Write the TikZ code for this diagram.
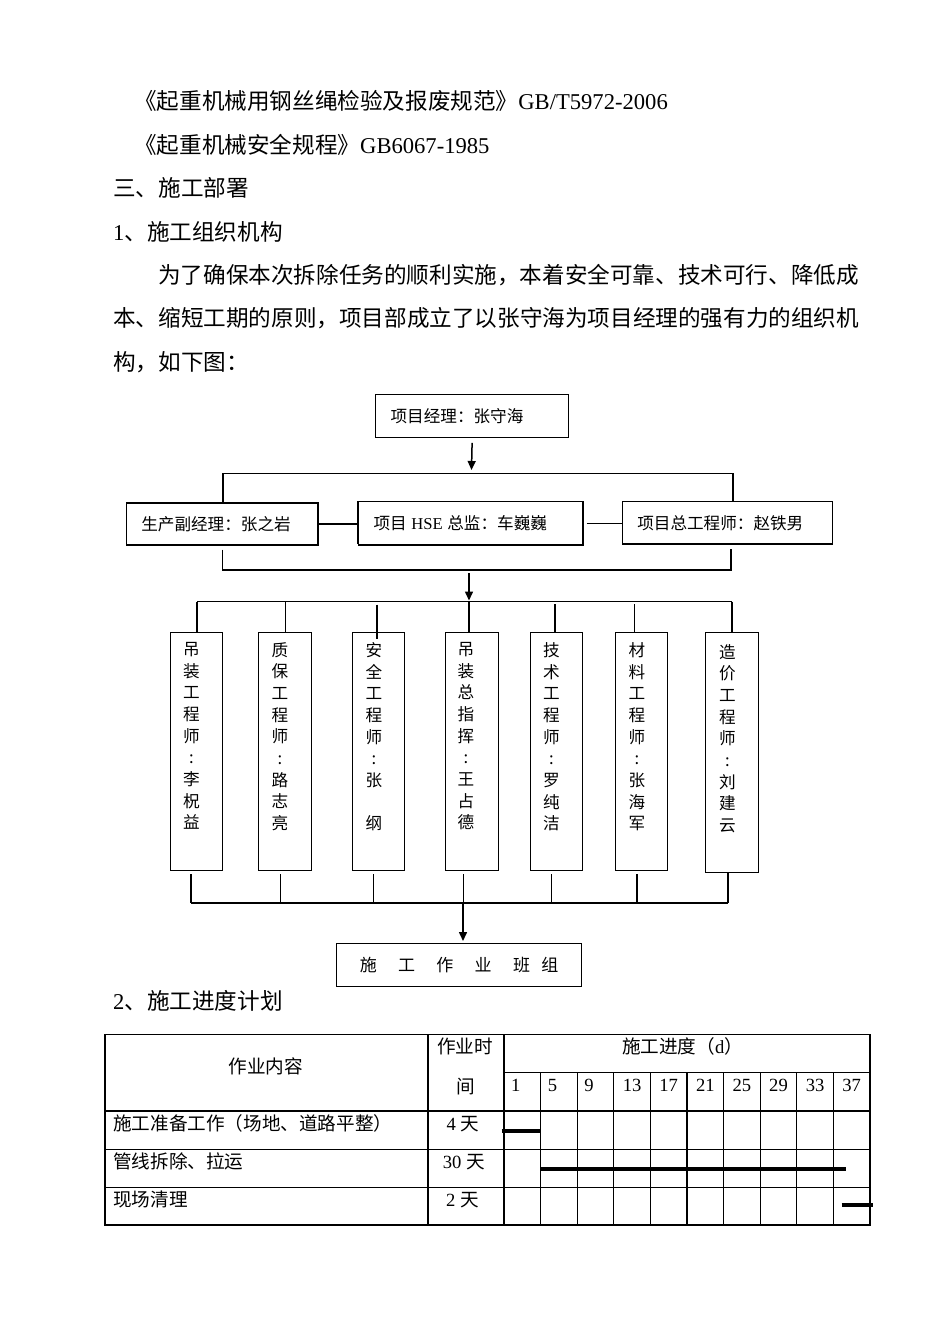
\documentclass[tikz,border=0pt]{standalone}
\usepackage{fontspec}
\setmainfont{Noto Sans CJK SC}
\newfontfamily\lat{Liberation Serif}
\newfontfamily\tnr{Liberation Serif}
\usetikzlibrary{arrows.meta}
\begin{document}
\begin{tikzpicture}[x=1pt,y=-1pt,
  body/.style={anchor=base west, inner sep=0, font=\fontsize{22.6}{27}\selectfont},
  box/.style={draw, line width=1.2pt, anchor=north west, inner ysep=0, align=left, font=\fontsize{16.6}{20}\selectfont},
  ln/.style={line width=1.2pt},
  thk/.style={line width=2.2pt},
  arr/.style={line width=1.5pt, -{Triangle[length=9pt,width=8pt]}},
  vbox/.style={draw, line width=1.2pt, anchor=north west, minimum height=238pt, inner sep=0},
  vtxt/.style={anchor=north, inner sep=0, align=center, font=\fontsize{16.6}{21.67}\selectfont},
  cell/.style={inner sep=0, font=\fontsize{18.6}{22}\selectfont},
  tl/.style={line width=1.1pt},
  bar/.style={line width=3.5pt}
]
\useasboundingbox[fill=white] (0,0) rectangle (950,1344);

% ---------- body text ----------
\node[body] (l1) at (134,109.2) {《起重机械用钢丝绳检验及报废规范》{\lat GB/T5972-2006}};
\node[body] (l2) at (134,153.5) {《起重机械安全规程》{\lat GB6067-1985}};
\node[body] (l3) at (113,196.8) {三、施工部署};
\node[body] (l4) at (113,240.2) {{\lat 1}、施工组织机构};
\node[body] (l5) at (158,283.5) {为了确保本次拆除任务的顺利实施，本着安全可靠、技术可行、降低成};
\node[body] (l6) at (113,326.8) {本、缩短工期的原则，项目部成立了以张守海为项目经理的强有力的组织机};
\node[body] (l7) at (113,370.2) {构，如下图：};

% ---------- org chart ----------
\node[box, text width=163pt, inner xsep=15pt, minimum height=42.7pt] (pm) at (375,394) {项目经理：张守海};
\node[box, text width=161.9pt, inner xsep=14.7pt, minimum height=42pt] (A) at (126,502.3) {生产副经理：张之岩};
\node[box, text width=194pt, inner xsep=15.3pt, minimum height=43.3pt] (B) at (357.7,501) {项目\hspace{4.6pt}{\tnr HSE}\hspace{4.6pt}总监：车巍巍};
\node[box, text width=180pt, inner xsep=15pt, minimum height=42.3pt] (C) at (621.7,501) {项目总工程师：赵铁男};
\draw[thk] (357.7,501) -- (357.7,544.3);

\coordinate (a1e) at (471.5,470);
\draw[arr] ([yshift=-5pt]pm.south) -- (a1e);

\coordinate (h1l) at (223,473.3);
\coordinate (h1r) at (733,473.3);
\draw[ln] (h1l) -- (h1r) -- (C.north -| h1r);
\draw[thk] (h1l) -- (A.north -| h1l);
\draw[ln] (A.east) -- (A.east -| B.west);
\draw[ln] ([xshift=3pt]B.east) -- (B.east -| C.west);

\coordinate (h2l) at (222.7,570);
\coordinate (h2r) at (731,570);
\draw[ln] ([yshift=-4pt]A.south -| h2l) -- (h2l) -- (h2r) -- ([yshift=-4pt]C.south -| h2r);

\coordinate (a2s) at (469,573);
\coordinate (a2e) at (469,600.5);
\draw[arr] (a2s) -- (a2e);

% seven vertical boxes
\node[vbox, minimum width=51.5pt] (v1) at (170,632) {};
\node[vbox, minimum width=52.5pt] (v2) at (258,632) {};
\node[vbox, minimum width=51.5pt] (v3) at (352,632) {};
\node[vbox, minimum width=52.5pt] (v4) at (445,632) {};
\node[vbox, minimum width=52.3pt] (v5) at (529.7,632) {};
\node[vbox, minimum width=52pt] (v6) at (615,632) {};
\node[vbox, minimum width=52.5pt, minimum height=239.7pt] (v7) at (705,632) {};

\node[vtxt] (x1) at (191.5,642.2) {吊\\装\\工\\程\\师\\:\\李\\柷\\益};
\node[vtxt] (x2) at (280,642.2) {质\\保\\工\\程\\师\\:\\路\\志\\亮};
\node[vtxt] (x3) at (374,642.2) {安\\全\\工\\程\\师\\:\\张\\[21.67pt]纲};
\node[vtxt] (x4) at (466,642.2) {吊\\装\\总\\指\\挥\\:\\王\\占\\德};
\node[vtxt] (x5) at (551.5,642.2) {技\\术\\工\\程\\师\\:\\罗\\纯\\洁};
\node[vtxt] (x6) at (637,642.2) {材\\料\\工\\程\\师\\:\\张\\海\\军};
\node[vtxt] (x7) at (727.5,643.9) {造\\价\\工\\程\\师\\:\\刘\\建\\云};

% top distribution line
\coordinate (t1) at (197,601.5);
\coordinate (t2) at (285.5,601.5);
\coordinate (t3) at (377,604.5);
\coordinate (t4) at (469,601.5);
\coordinate (t5) at (555,604);
\coordinate (t6) at (634.5,604);
\coordinate (t7) at (732,601.5);
\draw[ln] (t1) -- (t7 |- t1);
\draw[ln] (t1) -- (t1 |- v1.north);
\draw[ln] (t2) -- (t2 |- v2.north);
\draw[ln] (t3) -- ([yshift=-7pt]t3 |- v3.north);
\draw[ln] (t4) -- (t4 |- v4.north);
\draw[ln] (t5) -- (t5 |- v5.north);
\draw[ln] (t6) -- (t6 |- v6.north);
\draw[ln] (t7) -- (t7 |- v7.north);

% bottom collecting line
\coordinate (u1) at (191,903);
\coordinate (u2) at (280.5,903);
\coordinate (u3) at (373.6,903);
\coordinate (u4) at (463.8,903);
\coordinate (u5) at (551.2,903);
\coordinate (u6) at (637,903);
\coordinate (u7) at (727.6,903);
\draw[ln] (u1) -- (u7);
\draw[ln] ([yshift=-3pt]v1.south -| u1) -- (u1);
\draw[ln] ([yshift=-3pt]v2.south -| u2) -- (u2);
\draw[ln] ([yshift=-3pt]v3.south -| u3) -- (u3);
\draw[ln] ([yshift=-3pt]v4.south -| u4) -- (u4);
\draw[ln] ([yshift=-3pt]v5.south -| u5) -- (u5);
\draw[ln] ([yshift=-3pt]v6.south -| u6) -- (u6);
\draw[thk] (v7.south -| u7) -- (u7);

\node[draw, line width=1.2pt, minimum width=245pt, minimum height=43pt, inner sep=0, anchor=north west,
      font=\fontsize{17}{20}\selectfont] (team) at (336,943)
  {施\hspace{21.3pt}工\hspace{21.3pt}作\hspace{21.3pt}业\hspace{21.3pt}班\hspace{11.3pt}组};
\coordinate (a3s) at (463,903);
\draw[arr, shorten >=2pt] (a3s) -- (team.north -| a3s);

% ---------- section 2 ----------
\node[body] (l8) at (113,1009.5) {{\lat 2}、施工进度计划};

% ---------- table ----------
\draw[tl] (105,1034.3) rectangle (870,1225);
\foreach \yy in {1111,1149.3,1187.3} \draw[tl] (105,\yy) -- (870,\yy);
\draw[tl] (504,1072.3) -- (870,1072.3);
\draw[tl] (428,1034.3) -- (428,1225);
\draw[tl] (504,1034.3) -- (504,1225);
\foreach \i in {1,...,9} \draw[tl] ({504+36.6*\i},1072.3) -- ({504+36.6*\i},1225);

\node[cell, anchor=base] (hc1) at (265.7,1073.6) {作业内容};
\node[cell, anchor=base] (hc2) at (465,1053.6) {作业时};
\node[cell, anchor=base] (hc2b) at (466,1093.6) {间};
\node[cell, anchor=base] (hc3) at (682.5,1053.6) {施工进度（{\lat d}）};

\foreach \n [count=\i from 0] in {1,5,9} \node[cell, anchor=base west] (n\i) at ({504+36.6*\i+7},1091.5) {\lat\n};
\foreach \n [count=\i from 3] in {13,17,21,25,29,33,37} \node[cell, anchor=base] (n\i) at ({504+36.6*\i+18.3},1091.5) {\lat\n};

\node[cell, anchor=base west] (r1) at (113,1130.2) {施工准备工作（场地、道路平整）};
\node[cell, anchor=base west] (r2) at (113,1168) {管线拆除、拉运};
\node[cell, anchor=base west] (r3) at (113,1206) {现场清理};
\node[cell, anchor=base] (d1) at (463,1130.2) {{\lat 4 }天};
\node[cell, anchor=base] (d2) at (463.7,1168) {{\lat 30 }天};
\node[cell, anchor=base] (d3) at (462.5,1206) {{\lat 2 }天};

\draw[bar] (501.7,1131) -- (541,1131);
\draw[bar] (540,1169) -- (846,1169);
\draw[bar] (841.7,1205) -- (872.7,1205);
\end{tikzpicture}
\end{document}
